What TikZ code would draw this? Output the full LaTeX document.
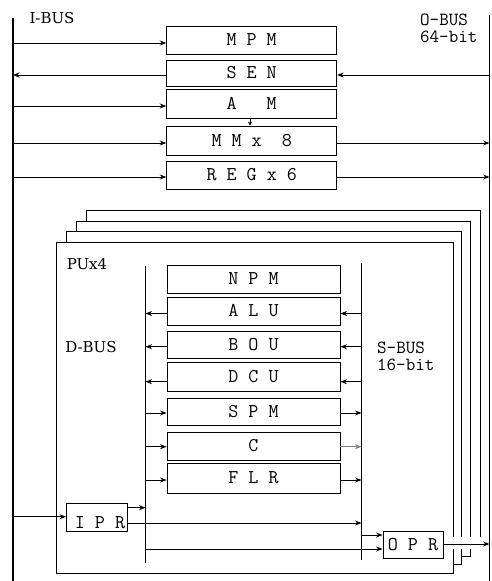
\documentclass[tikz,border=0pt]{standalone}
\usepackage{fontspec}
\newfontfamily\lblfont{DejaVu Serif}
\usetikzlibrary{arrows.meta}
\begin{document}
\begin{tikzpicture}[x=1pt,y=-1pt,
  box/.style={draw,line width=0.9pt,inner sep=0pt,font=\ttfamily\fontsize{19.5}{19.5}\selectfont},
  tb/.style={box,minimum width=170pt},
  ib/.style={box,minimum width=173pt},
  arr/.style={-{Stealth[length=6.5pt,width=5pt]},line width=0.8pt},
  bus/.style={line width=0.9pt},
  lbl/.style={font=\lblfont\fontsize{15}{15}\selectfont,inner sep=0pt},
  mlbl/.style={font=\ttfamily\fontsize{18.5}{17}\selectfont,inner sep=0pt,align=left},
  frame/.style={line width=0.9pt}]
\useasboundingbox (0,0) rectangle (492,581);

% buses
\coordinate (ibT) at (13,18);   \coordinate (ibB) at (13,581);
\coordinate (obT) at (489.5,15); \coordinate (obB) at (489.5,581);
\coordinate (dbT) at (145.5,266); \coordinate (dbB) at (145.5,563);
\coordinate (sbT) at (361.5,263); \coordinate (sbB) at (361.5,560);
\draw[line width=2.2pt] (ibT) -- (ibB);
\draw[line width=1.3pt] (obT) -- (obB);
\draw[bus] (dbT) -- (dbB);
\draw[bus] (sbT) -- (sbB);

% labels
\node[lbl] (ibl) at (52,18) {I-BUS};
\node[mlbl,anchor=north west] (obl) at (420,14) {O-BUS\\64-bit};
\node[lbl] (pul) at (87,264) {PUx4};
\node[lbl] (dbl) at (91,347) {D-BUS};
\node[mlbl,anchor=north west] (sbl) at (377,342) {S-BUS\\16-bit};

% top boxes
\node[tb,minimum height=28pt] (mpm) at (251.7,40) {M P M};
\node[tb,minimum height=26pt] (sen) at (251.7,73) {S E N};
\node[tb,minimum height=29pt] (am) at (251.7,103.5) {A\ \ \ M};
\node[tb,minimum height=29pt] (mm) at (251.7,140.5) {M M x\ \ 8};
\node[tb,minimum height=28pt] (reg) at (251.7,175) {R E G x 6};

\draw[arr] (ibT |- 0,43) -- (mpm.west |- 0,43);
\draw[arr] (sen.west |- 0,75) -- (ibT |- 0,75);
\draw[arr] (obT |- 0,75) -- (sen.east |- 0,75);
\draw[arr] (ibT |- 0,106) -- (am.west |- 0,106);
\draw[arr] (ibT |- 0,143) -- (mm.west |- 0,143);
\draw[arr] (mm.east |- 0,143) -- (obT |- 0,143);
\draw[arr] (ibT |- 0,177) -- (reg.west |- 0,177);
\draw[arr] (reg.east |- 0,177) -- (obT |- 0,177);
\draw[-{Stealth[length=4pt,width=4pt]},line width=0.6pt] (am.south -| 250,0) -- (mm.north -| 250,0);

% stacked PU frames
\draw[frame] (86.7,221) -- (86.7,210) -- (480,210) -- (480,537);
\draw[frame] (76.7,231) -- (76.7,221) -- (470,221) -- (470,537);
\draw[frame] (66.7,242) -- (66.7,231) -- (461,231) -- (461,537);
\draw[frame] (453,537) -- (453,242) -- (56,242) -- (56,573) -- (453,573) -- (453,549);
\draw[frame] (470,549) -- (470,556) -- (461,556);
\draw[frame] (461,549) -- (461,564) -- (453,564);

% inner boxes
\node[ib,minimum height=28pt] (npm) at (253.5,279) {N P M};
\node[ib,minimum height=28pt] (alu) at (253.5,311) {A L U};
\node[ib,minimum height=27pt] (bou) at (253.5,345) {B O U};
\node[ib,minimum height=29pt] (dcu) at (253.5,377) {D C U};
\node[ib,minimum height=27pt] (spm) at (253.5,411.5) {S P M};
\node[ib,minimum height=28pt] (cbx) at (253.5,446) {C};
\node[ib,minimum height=30pt] (flr) at (253.5,478) {F L R};

\draw[arr] (alu.west |- 0,313.5) -- (dbT |- 0,313.5);
\draw[arr] (sbT |- 0,313.5) -- (alu.east |- 0,313.5);
\draw[arr] (bou.west |- 0,346.7) -- (dbT |- 0,346.7);
\draw[arr] (sbT |- 0,346.7) -- (bou.east |- 0,346.7);
\draw[arr] (dcu.west |- 0,381.7) -- (dbT |- 0,381.7);
\draw[arr] (sbT |- 0,381.7) -- (dcu.east |- 0,381.7);
\draw[arr] (dbT |- 0,413) -- (spm.west |- 0,413);
\draw[arr] (spm.east |- 0,413) -- (sbT |- 0,413);
\draw[arr] (dbT |- 0,446.7) -- (cbx.west |- 0,446.7);
\draw[arr,gray] (cbx.east |- 0,446.7) -- (sbT |- 0,446.7);
\draw[arr] (dbT |- 0,480) -- (flr.west |- 0,480);
\draw[arr] (flr.east |- 0,480) -- (sbT |- 0,480);

% IPR / OPR
\node[box,minimum width=61pt,minimum height=28pt] (ipr) at (97,517.5) {};
\node[font=\ttfamily\fontsize{19.5}{19.5}\selectfont,inner sep=0pt] (iprt) at (100,523) {I P R};
\node[box,minimum width=60pt,minimum height=27pt] (opr) at (413,545) {O P R};

\draw[arr] (ibT |- 0,516.7) -- (ipr.west |- 0,516.7);
\draw[arr] (ipr.east |- 0,507.7) -- (dbT |- 0,507.7);
\draw[arr] (ipr.east |- 0,523) -- (sbT |- 0,523);
\draw[arr] (sbT |- 0,535) -- (opr.west |- 0,535);
\draw[arr] (dbT |- 0,549) -- (opr.west |- 0,549);
\draw[arr] (opr.east |- 0,544) -- (obT |- 0,544);
\end{tikzpicture}
\end{document}
